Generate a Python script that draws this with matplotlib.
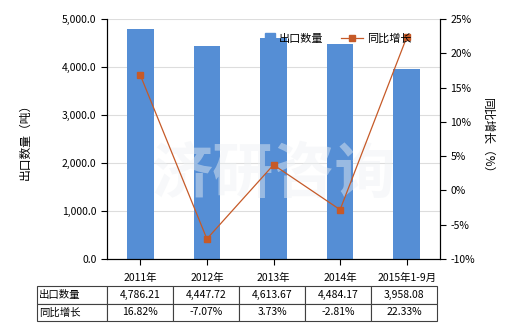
import matplotlib
matplotlib.use("Agg")
import matplotlib.pyplot as plt
from matplotlib.patches import Rectangle
from matplotlib.legend_handler import HandlerPatch
from matplotlib.ticker import FuncFormatter, MultipleLocator

plt.rcParams["font.family"] = ["Noto Sans CJK SC", "DejaVu Sans"]

years = ["2011年", "2012年", "2013年", "2014年", "2015年1-9月"]
export_qty = [4786.21, 4447.72, 4613.67, 4484.17, 3958.08]
yoy_growth = [16.82, -7.07, 3.73, -2.81, 22.33]
qty_labels = ["4,786.21", "4,447.72", "4,613.67", "4,484.17", "3,958.08"]
growth_labels = ["16.82%", "-7.07%", "3.73%", "-2.81%", "22.33%"]

bar_color = "#558ED5"
line_color = "#C65A28"
fs = 7.5


def square_patch(legend, orig_handle, xdescent, ydescent, width, height, fontsize):
    side = height * 1.3
    return Rectangle((width - side, (height - side) / 2), side, side)


fig = plt.figure(figsize=(5.2, 3.3), dpi=100)
ax = fig.add_axes([107 / 520, 71 / 330, 333 / 520, 240 / 330])
x = range(len(years))

ax.bar(x, export_qty, width=0.4, color=bar_color, zorder=2)
ax.set_xlim(-0.5, 4.5)
ax.set_ylim(0, 5000)
ax.yaxis.set_major_locator(MultipleLocator(1000))
ax.yaxis.set_major_formatter(FuncFormatter(lambda v, p: f"{v:,.1f}"))
ax.grid(axis="y", color="#dddddd", linewidth=0.8, zorder=0)
ax.set_xticks(list(x))
ax.set_xticklabels(years, fontsize=fs)
ax.tick_params(axis="y", labelsize=fs, length=4)
ax.tick_params(axis="x", length=4, pad=6)
ax.spines["top"].set_visible(False)
ax.set_ylabel("出口数量（吨）", fontsize=fs + 1, labelpad=22)

# watermark
ax.text(0.5, 0.35, "济研咨询", transform=ax.transAxes, fontsize=44,
        color="#eef1f4", alpha=0.45, ha="center", va="center",
        fontweight="bold", zorder=3)

ax2 = ax.twinx()
line, = ax2.plot(x, yoy_growth, color=line_color, linewidth=0.9, marker="s",
                 markersize=4.5, zorder=4)
ax2.set_ylim(-10, 25)
ax2.yaxis.set_major_locator(MultipleLocator(5))
ax2.yaxis.set_major_formatter(FuncFormatter(lambda v, p: f"{v:.0f}%"))
ax2.tick_params(axis="y", labelsize=fs, length=4)
ax2.spines["top"].set_visible(False)
ax2.set_ylabel("同比增长（%）", fontsize=fs + 1, rotation=270, labelpad=14)

bar_proxy = Rectangle((0, 0), 1, 1, color=bar_color)
ax2.legend([bar_proxy, line], ["出口数量", "同比增长"], loc="upper right",
           bbox_to_anchor=(0.945, 0.98), ncol=2, frameon=False,
           fontsize=fs + 0.5, handlelength=2.0, columnspacing=1.5,
           handletextpad=0.4,
           handler_map={Rectangle: HandlerPatch(patch_func=square_patch)})

# data table under the chart
tax = fig.add_axes([37 / 520, 9 / 330, 400 / 520, 35 / 330])
tax.axis("off")
cells = [["出口数量"] + qty_labels, ["同比增长"] + growth_labels]
widths = [70 / 400] + [66 / 400] * 5
tbl = tax.table(cellText=cells, colWidths=widths, bbox=[0, 0, 1, 1])
tbl.auto_set_font_size(False)
for (r, c), cell in tbl.get_celld().items():
    cell.set_fontsize(fs)
    cell.set_edgecolor("#404040")
    cell.set_linewidth(0.8)
    if c == 0:
        cell.get_text().set_ha("left")
        cell.PAD = 0.03
    else:
        cell.get_text().set_ha("center")

fig.savefig("out.png", dpi=100)
